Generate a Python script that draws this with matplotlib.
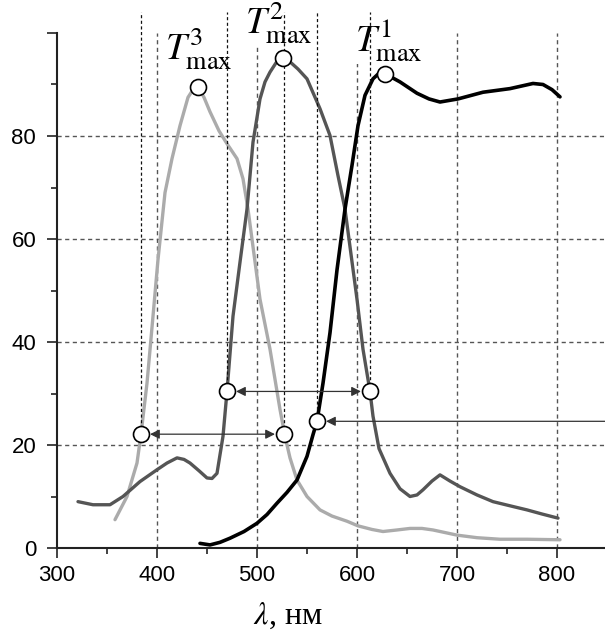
import matplotlib
matplotlib.use("Agg")
import matplotlib.pyplot as plt
from matplotlib.ticker import MultipleLocator, FixedLocator

plt.rcParams['mathtext.fontset'] = 'stix'

# ---- data ----
t3_x = [358, 370, 380, 384, 390, 396, 401, 408, 415, 423, 431, 437, 441, 447, 453, 462, 470, 480, 486, 491, 496,
        503, 513, 523, 528, 533, 540, 550, 563, 575, 590, 601, 615, 626, 640, 653, 665, 676, 688, 700,
        720, 743, 770, 803]
t3_y = [5.5, 10, 16.5, 22.1, 32, 45, 56, 69, 75.6, 82, 87.5, 89.3, 89.5, 87.5, 84.7, 81, 78.5, 75.6, 71.7, 65.8, 58.5,
        48.3, 38.6, 26.9, 21.7, 17.5, 13.2, 10, 7.4, 6.2, 5.2, 4.3, 3.6, 3.2, 3.5, 3.8, 3.8, 3.5, 3.0, 2.5,
        2.0, 1.7, 1.7, 1.6]

t2_x = [321, 336, 353, 366, 383, 400, 410, 420, 427, 433, 442, 450, 455, 460, 466, 470, 476, 483, 490,
        496, 503, 508, 513, 520, 526, 533, 541, 550, 563, 573, 581, 588, 593, 600, 606, 613, 616, 622, 633, 643,
        653, 660, 666, 675, 683, 693, 703, 720, 736, 755, 770, 785, 801]
t2_y = [9.0, 8.4, 8.4, 10, 12.9, 15.2, 16.5, 17.5, 17.2, 16.5, 15, 13.6, 13.5, 14.5, 21.7, 30.4, 45, 55.5,
        65.8, 78.8, 87.2, 90.5, 92.4, 94.5, 95.2, 94.4, 93, 91.1, 85.3, 80.1, 72.3, 65.8, 58.5, 48.3, 38.6, 30.4,
        25.6, 19.3, 14.5, 11.5, 10, 10.3, 11.3, 13, 14.2, 13, 11.9, 10.3, 9, 8.1, 7.4, 6.6, 5.8]

t1_x = [443, 453, 463, 473, 487, 500, 510, 520, 530, 540, 550, 556, 560, 566, 573, 580, 588, 595, 601,
        608, 616, 621, 628, 643, 660, 672, 683, 701, 726, 753, 776, 786, 795, 803]
t1_y = [0.9, 0.6, 1.1, 1.9, 3.2, 4.8, 6.5, 8.7, 10.8, 13.2, 17.8, 22, 24.6, 32, 41.8, 54, 65.8, 74.3, 82,
        87.9, 91.1, 92, 92.1, 90.5, 88.3, 87.2, 86.6, 87.2, 88.5, 89.2, 90.2, 90, 89, 87.6]

peak_x = [441, 526, 628]
peak_y = [89.5, 95.2, 92.1]
peak_labels = [r'$T^{3}_{\mathrm{max}}$', r'$T^{2}_{\mathrm{max}}$', r'$T^{1}_{\mathrm{max}}$']
label_x = [442, 522, 632]
label_y = [97, 102, 98.5]

# half-maximum points: pairs (left, right) at level
hm_pairs = [(384, 527, 22.1), (470, 613, 30.4)]
edge_point = (560, 24.6)

xticks = [300, 400, 500, 600, 700, 800]
yticks = [0, 20, 40, 60, 80]

# ---- figure ----
fig = plt.figure(figsize=(6.05, 6.44), dpi=100)
ax = fig.add_axes([57/605, 96/644, 548/605, 515/644])
ax.set_xlim(300, 848)
ax.set_ylim(0, 100)

for s in ['top', 'right']:
    ax.spines[s].set_visible(False)
for s in ['left', 'bottom']:
    ax.spines[s].set_linewidth(1.5)
    ax.spines[s].set_color('#222222')

ax.xaxis.set_major_locator(FixedLocator(xticks))
ax.xaxis.set_minor_locator(MultipleLocator(50))
ax.yaxis.set_major_locator(FixedLocator(yticks + [100]))
ax.yaxis.set_minor_locator(MultipleLocator(10))
ax.set_yticklabels([str(v) for v in yticks] + [''])
ax.tick_params(axis='both', which='major', length=7, width=1.2, color='#222222',
               labelsize=16, pad=5)
ax.tick_params(axis='y', which='major', pad=8)
ax.tick_params(axis='both', which='minor', length=4, width=1.2, color='#222222')
for lab in ax.get_xticklabels() + ax.get_yticklabels():
    lab.set_family('Liberation Sans')

# grid
for gx in [400, 500, 600, 700, 800]:
    ax.plot([gx, gx], [0, 100], ls=(0, (3, 2.5)), lw=1.0, color='#555555', zorder=0.5)
for gy in [20, 40, 60, 80]:
    ax.plot([300, 848], [gy, gy], ls=(0, (3, 2.5)), lw=1.0, color='#555555', zorder=0.5,
            clip_on=False)

# curves
ax.plot(t3_x, t3_y, color='#ababab', lw=2.4, zorder=2, solid_capstyle='round', solid_joinstyle='round')
ax.plot(t2_x, t2_y, color='#555555', lw=2.4, zorder=2.1, solid_capstyle='round', solid_joinstyle='round')
ax.plot(t1_x, t1_y, color='#000000', lw=2.6, zorder=2.2, solid_capstyle='round', solid_joinstyle='round')

# vertical annotation lines
vx = [hm_pairs[0][0], hm_pairs[1][0], hm_pairs[0][1], edge_point[0], hm_pairs[1][1]]
vy = [hm_pairs[0][2], hm_pairs[1][2], hm_pairs[0][2], edge_point[1], hm_pairs[1][2]]
for x, y in zip(vx, vy):
    ax.plot([x, x], [y, 104], ls=(0, (2.5, 2)), lw=0.9, color='#111111', zorder=3, clip_on=False)

# arrows
arrow_kw = dict(arrowstyle='<|-|>', color='#333333', lw=0.9, mutation_scale=14,
                shrinkA=6.5, shrinkB=6.5)
for xl, xr, yv in hm_pairs:
    ax.annotate('', xy=(xr, yv), xytext=(xl, yv), arrowprops=arrow_kw, zorder=4)
ax.annotate('', xy=edge_point, xytext=(848, edge_point[1]),
            arrowprops=dict(arrowstyle='-|>', color='#333333', lw=0.9, mutation_scale=14,
                            shrinkA=0, shrinkB=6.5), zorder=4, annotation_clip=False)

# markers
mx = [p[0] for p in hm_pairs] + [p[1] for p in hm_pairs] + [edge_point[0]] + peak_x
my = [p[2] for p in hm_pairs] + [p[2] for p in hm_pairs] + [edge_point[1]] + peak_y
ax.plot(mx, my, 'o', ms=11.5, mfc='white', mec='black', mew=1.2, ls='none', zorder=5, clip_on=False)

# peak labels
for lx, ly, lab in zip(label_x, label_y, peak_labels):
    ax.text(lx, ly, lab, fontsize=27, ha='center', va='center', zorder=1, clip_on=False,
            bbox=dict(facecolor='white', edgecolor='none', pad=0))

fig.text(288/605, 1 - 616/644, r'$\lambda$, нм', fontsize=23, ha='center', va='center',
         family='Liberation Serif')

fig.savefig('out.png', dpi=100)
